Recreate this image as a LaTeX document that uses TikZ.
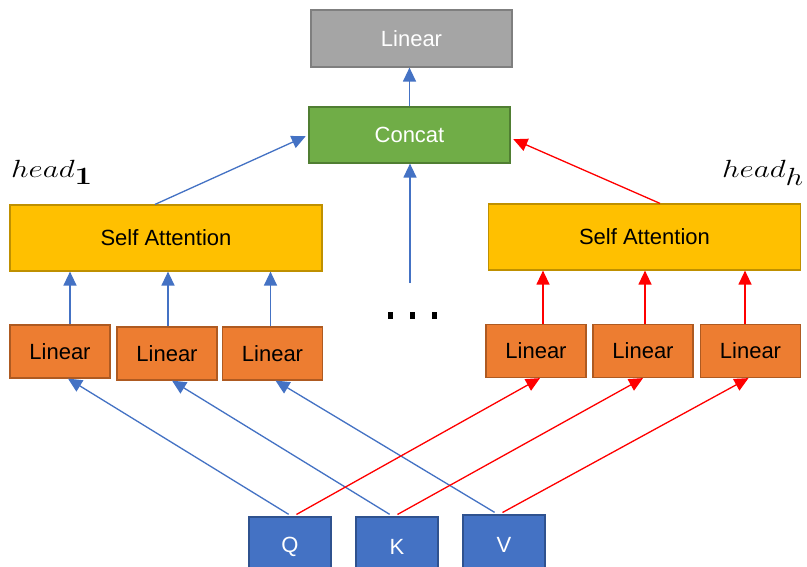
\documentclass[tikz,border=0pt]{standalone}
\usepackage[no-math]{fontspec}
\setmainfont{Liberation Sans}
\usetikzlibrary{arrows.meta}
\definecolor{grayfill}{HTML}{A5A5A5}
\definecolor{grayline}{HTML}{7F7F7F}
\definecolor{greenfill}{HTML}{70AD47}
\definecolor{greenline}{HTML}{507E32}
\definecolor{goldfill}{HTML}{FFC000}
\definecolor{goldline}{HTML}{BF9000}
\definecolor{orangefill}{HTML}{ED7D31}
\definecolor{orangeline}{HTML}{AE5A21}
\definecolor{bluefill}{HTML}{4472C4}
\definecolor{blueline}{HTML}{2F528F}
\definecolor{arrowblue}{HTML}{4472C4}
\definecolor{arrowred}{HTML}{FF0000}
\newcommand{\wideheads}[1]{\scalebox{1.25}[1]{#1}}
\tikzset{
  box/.style={rectangle, draw, line width=1.2pt, inner sep=0pt,
    font=\fontsize{22}{26}\selectfont},
  outbox/.style={box, fill=grayfill, draw=grayline, text=white,
    minimum width=201pt, minimum height=57pt},
  concatbox/.style={box, fill=greenfill, draw=greenline, text=white,
    minimum width=201pt, minimum height=56pt},
  attbox/.style={box, fill=goldfill, draw=goldline, text=black,
    minimum width=312pt, minimum height=66pt},
  linbox/.style={box, fill=orangefill, draw=orangeline, text=black,
    minimum width=100pt, minimum height=53pt},
  inbox/.style={box, fill=bluefill, draw=blueline, text=white,
    minimum width=82pt, minimum height=60pt},
  headlabel/.style={inner sep=0pt, anchor=base west,
    font=\fontsize{33}{38}\selectfont},
  tip/.style={-{Triangle[length=14pt,width=13pt]}},
  bluearrow/.style={tip, draw=arrowblue, fill=arrowblue, line width=1.3pt},
  redarrow/.style={tip, draw=arrowred, fill=arrowred, line width=1.3pt},
}
\begin{document}
\begin{tikzpicture}[x=1pt, y=-1pt]
\clip (0,0) rectangle (807,566);
\fill[white] (0,0) rectangle (807,566);

% output projection and concatenation
\node[outbox] (out) at (411.5,38.5) {Linear};
\node[concatbox] (concat) at (409.5,135) {Concat};

% attention heads
\node[attbox] (sa1) at (166,238) {Self Attention};
\node[attbox] (sah) at (644.5,237) {Self Attention};

% per-head projections
\node[linbox] (l1) at (60,351.5) {Linear};
\node[linbox] (l2) at (167,353.5) {Linear};
\node[linbox] (l3) at (272.5,353.5) {Linear};
\node[linbox] (r1) at (536,351) {Linear};
\node[linbox] (r2) at (643,351) {Linear};
\node[linbox] (r3) at (750.5,351) {Linear};

% inputs
\node[inbox] (q) at (290,547) {Q};
\node[inbox] (k) at (397,547) {K};
\node[inbox] (v) at (504,545) {V};

% head labels
\node[headlabel] (head1) at (11,177) {\wideheads{$head_{\mathbf{1}}$}};
\node[headlabel] (headh) at (722,177) {\wideheads{$head_{h}$}};

% elided heads
\fill (387.5,312) rectangle ++(5,7);
\fill (409.5,312) rectangle ++(5,7);
\fill (431.5,312) rectangle ++(5,7);
\coordinate (mid) at (410,283);

% top arrows
\draw[bluearrow] (concat.north) -- (concat.north |- out.south);
\draw[bluearrow] (mid) -- (mid |- concat.south);
\draw[bluearrow, shorten >=3pt] ([xshift=-11pt]sa1.north) -- (concat.west);
\draw[redarrow, shorten >=3pt] ([xshift=15.5pt]sah.north) -- ([yshift=-3pt]concat.east);

% projections into attention
\coordinate (a1) at ([xshift=10pt]l1.north);
\coordinate (a2) at ([xshift=1pt]l2.north);
\coordinate (a3) at ([xshift=-2pt]l3.north);
\coordinate (b1) at ([xshift=7pt]r1.north);
\coordinate (b2) at ([xshift=2pt]r2.north);
\coordinate (b3) at ([xshift=-5.5pt]r3.north);
\draw[bluearrow] (a1) -- (a1 |- sa1.south);
\draw[bluearrow] (a2) -- (a2 |- sa1.south);
\draw[bluearrow] (a3) -- (a3 |- sa1.south);
\draw[redarrow] (b1) -- (b1 |- sah.south);
\draw[redarrow] (b2) -- (b2 |- sah.south);
\draw[redarrow] (b3) -- (b3 |- sah.south);

% inputs into projections
\draw[bluearrow, shorten <=4pt] ([xshift=2pt]q.north) -- ([xshift=8pt]l1.south);
\draw[bluearrow, shorten <=4pt] ([xshift=-4pt]k.north) -- ([xshift=5pt]l2.south);
\draw[bluearrow, shorten <=4pt] ([xshift=-6pt]v.north) -- ([xshift=3pt]l3.south);
\draw[redarrow, shorten <=4pt] ([xshift=3pt]q.north) -- ([xshift=4pt]r1.south);
\draw[redarrow, shorten <=4pt] ([xshift=-3pt]k.north) -- ([xshift=0pt]r2.south);
\draw[redarrow, shorten <=4pt] ([xshift=-5pt]v.north) -- ([xshift=-2pt]r3.south);
\end{tikzpicture}
\end{document}
